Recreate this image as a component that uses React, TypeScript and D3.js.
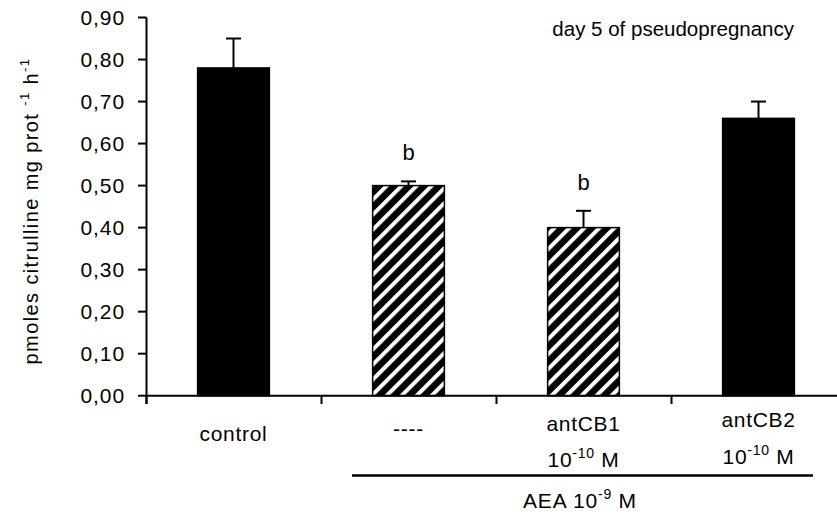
import React from 'react';
import * as d3 from 'd3';

const categories = ['control', '----', 'antCB1', 'antCB2'];
const subLabels = ['', '', '10|-10| M', '10|-10| M'];
const means = [0.78, 0.50, 0.40, 0.66];
const errors = [0.07, 0.01, 0.04, 0.04];
const fills = ['solid', 'hatch', 'hatch', 'solid'];
const sigLabels = ['', 'b', 'b', ''];
const yTicks = [0, 0.1, 0.2, 0.3, 0.4, 0.5, 0.6, 0.7, 0.8, 0.9];

const width = 837;
const height = 516;
const font = 'Liberation Sans, Arial, sans-serif';

// renders "base|sup|rest" as text with a superscript
function SupText(props: any) {
  const { text, size, supSize, ...rest } = props;
  const parts = text.split('|');
  return (
    <text {...rest} fontSize={size} fontFamily={font}>
      <tspan>{parts[0]}</tspan>
      {parts.length > 1 && (
        <tspan fontSize={supSize} dy={-size * 0.42}>{parts[1]}</tspan>
      )}
      {parts.length > 2 && (
        <tspan dy={size * 0.42}>{parts[2]}</tspan>
      )}
    </text>
  );
}

export default function App() {
  const x = d3.scaleBand()
    .domain(categories)
    .range([146, 846])
    .paddingInner(0.59)
    .paddingOuter(0.295);

  const y = d3.scaleLinear()
    .domain([0, 0.9])
    .range([395.7, 17.5]);

  const step = x.step();
  const bw = x.bandwidth();
  const boundaries = categories.map(c => (x(c) as number) + bw / 2 - step / 2);
  boundaries.push((x(categories[categories.length - 1]) as number) + bw / 2 + step / 2);

  const fmt = (v: number) => v.toFixed(2).replace('.', ',');
  const cx = (c: string) => (x(c) as number) + bw / 2;

  const line1Y = [441, 436, 431, 427];
  const line2Y = [0, 0, 467, 464];

  return (
    <svg width={width} height={height} style={{ position: 'absolute', left: 0, top: 0, background: '#fff' }}>
      <defs>
        <pattern id="hatch" patternUnits="userSpaceOnUse" width={10.6} height={10.6}
          patternTransform="rotate(45)">
          <rect width={10.6} height={10.6} fill="#000" />
          <rect x={0} width={4} height={10.6} fill="#fff" />
        </pattern>
      </defs>

      {/* bars */}
      {categories.map((c, i) => (
        <rect key={c}
          x={x(c)}
          y={y(means[i])}
          width={bw}
          height={y(0) - y(means[i])}
          fill={fills[i] === 'hatch' ? 'url(#hatch)' : '#000'}
          stroke="#000"
          strokeWidth={1.5} />
      ))}

      {/* error bars */}
      {categories.map((c, i) => (
        <g key={'e' + c} stroke="#000" strokeWidth={2}>
          <line x1={cx(c)} x2={cx(c)} y1={y(means[i])} y2={y(means[i] + errors[i])} />
          <line x1={cx(c) - 7.5} x2={cx(c) + 7.5} y1={y(means[i] + errors[i])} y2={y(means[i] + errors[i])} />
        </g>
      ))}

      {/* significance letters */}
      {categories.map((c, i) => sigLabels[i] && (
        <text key={'s' + c} x={cx(c)} y={y(means[i] + errors[i]) - 21}
          textAnchor="middle" fontSize={22} fontFamily={font}>{sigLabels[i]}</text>
      ))}

      {/* y axis */}
      <line x1={146.5} x2={146.5} y1={y(0.9)} y2={404} stroke="#000" strokeWidth={2} />
      {yTicks.map(t => (
        <g key={t}>
          <line x1={138} x2={146.5} y1={y(t)} y2={y(t)} stroke="#000" strokeWidth={2} />
          <text x={125} y={y(t) + 7.5} textAnchor="end" fontSize={21} letterSpacing={0.9}
            fontFamily={font}>{fmt(t)}</text>
        </g>
      ))}

      {/* x axis */}
      <line x1={146} x2={846} y1={y(0)} y2={y(0)} stroke="#000" strokeWidth={2} />
      {boundaries.map((b, i) => (
        <line key={i} x1={b + 0.5} x2={b + 0.5} y1={y(0)} y2={404} stroke="#000" strokeWidth={2} />
      ))}

      {/* category labels */}
      {categories.map((c, i) => (
        <text key={'l' + c} x={cx(c)} y={line1Y[i]} textAnchor="middle" fontSize={21}
          letterSpacing={0.7} fontFamily={font}>{c}</text>
      ))}
      {categories.map((c, i) => subLabels[i] && (
        <SupText key={'sl' + c} text={subLabels[i]} x={cx(c)} y={line2Y[i]}
          textAnchor="middle" size={21} supSize={14} letterSpacing={0.7} />
      ))}

      {/* group bracket */}
      <line x1={352} x2={813} y1={475.5} y2={475.5} stroke="#000" strokeWidth={2.5} />
      <SupText text="AEA 10|-9| M" x={580} y={508} textAnchor="middle" size={21} supSize={14}
        letterSpacing={0.8} />

      {/* title */}
      <text x={794} y={36} textAnchor="end" fontSize={20.5} fontFamily={font}>day 5 of pseudopregnancy</text>

      {/* y label */}
      <g transform="translate(38,211) rotate(-90)">
        <text textAnchor="middle" fontSize={20} letterSpacing={1.4} fontFamily={font}>
          <tspan>pmoles citrulline mg prot </tspan>
          <tspan fontSize={13} dy={-9}>-1</tspan>
          <tspan dy={9}> h</tspan>
          <tspan fontSize={13} dy={-9}>-1</tspan>
        </text>
      </g>
    </svg>
  );
}
